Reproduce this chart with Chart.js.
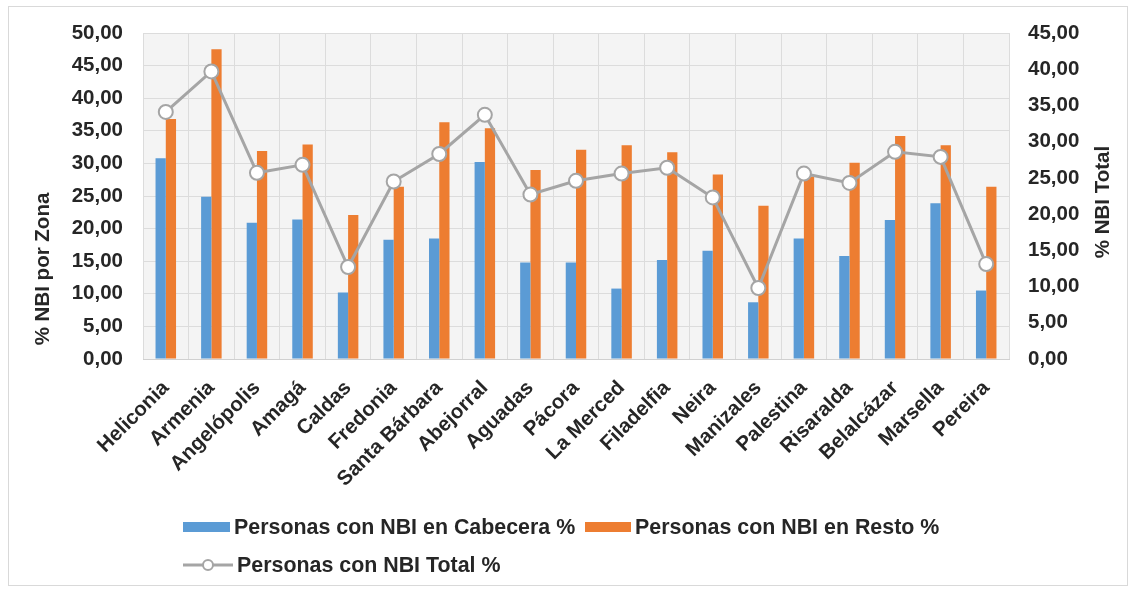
<!DOCTYPE html>
<html>
<head>
<meta charset="utf-8">
<script src="https://cdn.jsdelivr.net/npm/chart.js@4.4.1/dist/chart.umd.min.js"></script>
<style>
  html, body { margin: 0; padding: 0; background: #ffffff; }
  #wrap { position: relative; width: 1135px; height: 590px; overflow: hidden; font-family: "Liberation Sans", Arial, sans-serif; }
  #frame { position: absolute; left: 8px; top: 6px; width: 1120px; height: 580px; border: 1px solid #d9d9d9; box-sizing: border-box; pointer-events: none; }
  canvas { position: absolute; left: 0; top: 0; }
  .legend { position: absolute; font-weight: bold; font-size: 21.4px; color: #262626; white-space: nowrap; line-height: 24px; }
  .sw { display: inline-block; vertical-align: middle; }
</style>
</head>
<body>
<div id="wrap">
  <canvas id="c" width="1135" height="590" style="width:1135px;height:590px;"></canvas>
  <div id="frame"></div>
  <div id="legend"></div>
</div>
<script>
const categories = ['Heliconia','Armenia','Angelópolis','Amagá','Caldas','Fredonia','Santa Bárbara','Abejorral','Aguadas','Pácora','La Merced','Filadelfia','Neira','Manizales','Palestina','Risaralda','Belalcázar','Marsella','Pereira'];
const cabecera = [30.8,24.9,20.9,21.4,10.2,18.3,18.5,30.2,14.8,14.8,10.8,15.2,16.6,8.7,18.5,15.8,21.3,23.9,10.5];
const resto    = [36.8,47.5,31.9,32.9,22.1,26.4,36.3,35.4,29.0,32.1,32.8,31.7,28.3,23.5,28.0,30.1,34.2,32.8,26.4];
const total    = [34.1,39.7,25.7,26.8,12.7,24.5,28.3,33.7,22.7,24.6,25.6,26.4,22.3,9.8,25.6,24.3,28.6,27.9,13.1];
const seriesNames = ['Personas con NBI en Cabecera %','Personas con NBI en Resto %','Personas con NBI Total %'];
const leftTitle = '% NBI por Zona';
const rightTitle = '% NBI Total';

const BLUE = '#5b9bd5', ORANGE = '#ed7d31', GRAY = '#a5a5a5';
const FONT = '"Liberation Sans", Arial, sans-serif';
const TXT = '#262626';
const fmt = v => Number(v).toFixed(2).replace('.', ',');

const plotBg = {
  id: 'plotBg',
  beforeDraw(chart) {
    const {ctx, chartArea: a} = chart;
    ctx.save();
    ctx.fillStyle = '#f4f4f4';
    ctx.fillRect(a.left, a.top, a.right - a.left, a.bottom - a.top);
    ctx.restore();
  }
};
const titles = {
  id: 'titles',
  afterDraw(chart) {
    const ctx = chart.ctx;
    ctx.save();
    ctx.fillStyle = TXT;
    ctx.font = 'bold 20.5px ' + FONT;
    ctx.textAlign = 'center';
    ctx.textBaseline = 'middle';
    ctx.translate(43, 269);
    ctx.rotate(-Math.PI / 2);
    ctx.fillText(leftTitle, 0, 0);
    ctx.restore();
    ctx.save();
    ctx.fillStyle = TXT;
    ctx.font = 'bold 20.5px ' + FONT;
    ctx.textAlign = 'center';
    ctx.textBaseline = 'middle';
    ctx.translate(1103, 202);
    ctx.rotate(-Math.PI / 2);
    ctx.fillText(rightTitle, 0, 0);
    ctx.restore();
  }
};

new Chart(document.getElementById('c'), {
  data: {
    labels: categories,
    datasets: [
      { type: 'line', label: seriesNames[2], data: total, yAxisID: 'y1', order: 0,
        borderColor: GRAY, borderWidth: 3, pointRadius: 7, pointBorderWidth: 2,
        pointBackgroundColor: '#ffffff', pointBorderColor: GRAY, tension: 0 },
      { type: 'bar', label: seriesNames[0], data: cabecera, yAxisID: 'y', order: 1,
        backgroundColor: BLUE, barPercentage: 1, categoryPercentage: 0.45 },
      { type: 'bar', label: seriesNames[1], data: resto, yAxisID: 'y', order: 1,
        backgroundColor: ORANGE, barPercentage: 1, categoryPercentage: 0.45 }
    ]
  },
  options: {
    responsive: false,
    animation: false,
    devicePixelRatio: 1,
    layout: { padding: { top: 33, bottom: 0, left: 0, right: 0 } },
    plugins: { legend: { display: false }, tooltip: { enabled: false } },
    scales: {
      x: {
        offset: true,
        grid: { color: '#dcdcdc', drawTicks: false, offset: true },
        border: { color: '#d0d0d0' },
        ticks: { color: TXT, font: { family: FONT, size: 20.5, weight: 'bold' },
                 minRotation: 45, maxRotation: 45, padding: 17, autoSkip: false },
        afterFit(s) { s.height = 231; }
      },
      y: {
        position: 'left', min: 0, max: 50,
        grid: { color: '#dcdcdc', drawTicks: false },
        border: { display: false },
        ticks: { stepSize: 5, color: TXT, padding: 20, callback: v => fmt(v),
                 font: { family: FONT, size: 20.5, weight: 'bold' } },
        afterFit(s) { s.width = 143; }
      },
      y1: {
        position: 'right', min: 0, max: 45,
        grid: { display: false, drawTicks: false },
        border: { display: false },
        ticks: { stepSize: 5, color: TXT, padding: 19, callback: v => fmt(v),
                 font: { family: FONT, size: 20.5, weight: 'bold' } },
        afterFit(s) { s.width = 126; }
      }
    }
  },
  plugins: [plotBg, titles]
});

// Legend (HTML, Excel-like left-aligned rows)
const lg = document.getElementById('legend');
function item(x, y, swatchHtml, text) {
  const d = document.createElement('div');
  d.className = 'legend';
  d.style.left = x + 'px';
  d.style.top = (y - 12) + 'px';
  d.innerHTML = swatchHtml;
  const s = document.createElement('span');
  s.textContent = text;
  s.style.marginLeft = '4px';
  s.style.verticalAlign = 'middle';
  d.appendChild(s);
  lg.appendChild(d);
}
item(183, 526, '<span class="sw" style="width:47px;height:10px;background:' + BLUE + '"></span>', seriesNames[0]);
item(585, 526, '<span class="sw" style="width:46px;height:10px;background:' + ORANGE + '"></span>', seriesNames[1]);
item(183, 564, '<svg class="sw" width="50" height="16" viewBox="0 0 50 16"><line x1="0" y1="8" x2="50" y2="8" stroke="' + GRAY + '" stroke-width="3"/><circle cx="25" cy="8" r="5" fill="#fff" stroke="' + GRAY + '" stroke-width="2"/></svg>', seriesNames[2]);
</script>
</body>
</html>
